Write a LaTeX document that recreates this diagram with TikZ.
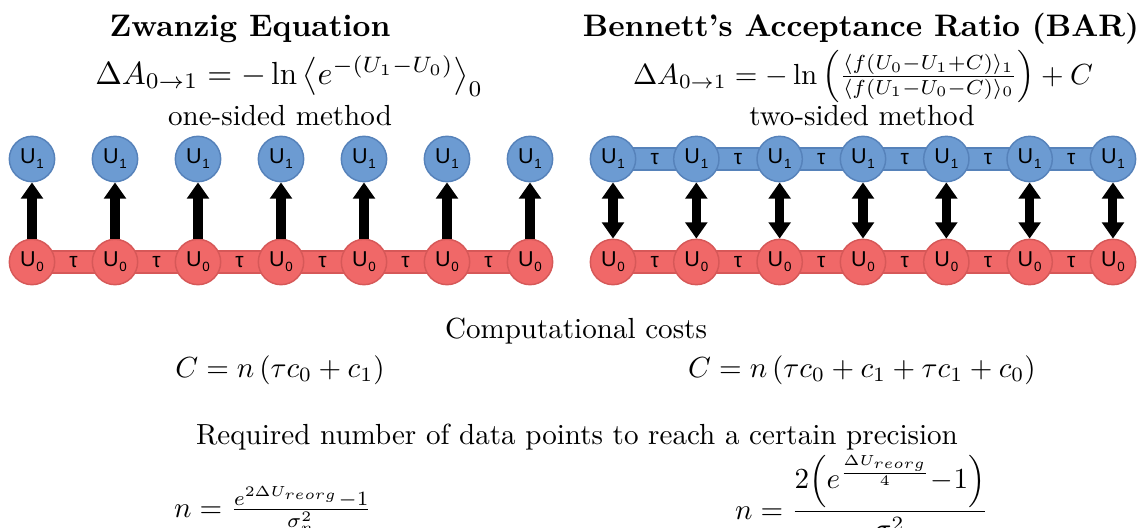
\RequirePackage{fix-cm}
\documentclass[tikz,border=0pt]{standalone}
\usepackage{amsmath}
\usepackage{fontspec}
\newfontfamily\nodefont{Liberation Sans}
\usetikzlibrary{arrows.meta,calc,backgrounds}
\definecolor{redfill}{RGB}{240,104,104}
\definecolor{redline}{RGB}{214,88,88}
\definecolor{bluefill}{RGB}{108,155,210}
\definecolor{blueline}{RGB}{86,130,186}
\newcommand{\ulab}[1]{{\nodefont\fontsize{7.4}{8}\selectfont U\kern0.3pt\raisebox{-1.7pt}{\fontsize{4.6}{5}\selectfont #1}}}
\tikzset{
  statebase/.style={circle,minimum size=15.6pt,inner sep=0pt,line width=0.5pt},
  redc/.style={statebase,fill=redfill,draw=redline},
  bluec/.style={statebase,fill=bluefill,draw=blueline},
  redband/.style={fill=redfill,draw=redline,line width=0.5pt},
  blueband/.style={fill=bluefill,draw=blueline,line width=0.5pt},
  taulab/.style={inner sep=0pt,font=\nodefont\fontsize{7.2}{8}\selectfont},
  onearrow/.style={line width=3.1pt,-{Triangle[width=7.4pt,length=5.6pt]}},
  twoarrow/.style={line width=3.1pt,{Triangle[width=7.4pt,length=5.6pt]}-{Triangle[width=7.4pt,length=5.6pt]}},
  txt/.style={anchor=base,inner sep=0pt},
  ttl/.style={txt,font=\fontsize{10.7}{13}\selectfont\bfseries},
}
\begin{document}
\begin{tikzpicture}[x=0.344pt,y=-0.344pt]
\useasboundingbox (0,0) rectangle (1140,528);
% titles and equations
\node[ttl] (t1) at (250,36) {Zwanzig Equation};
\node[ttl] (t2) at (861,36) {Bennett's Acceptance Ratio (BAR)};
\node[txt,font=\fontsize{11}{13}\selectfont] (e1) at (289,84) {$\Delta A_{0\to1} = -\ln\left\langle e^{-(U_1-U_0)}\right\rangle_0$};
\node[txt] (e2) at (863,84) {$\Delta A_{0\to1} = -\ln\left(\frac{\langle f(U_0-U_1+C)\rangle_1}{\langle f(U_1-U_0-C)\rangle_0}\right)+C$};
\node[txt] (m1) at (280,125) {one-sided method};
\node[txt] (m2) at (862,125) {two-sided method};
% states
\foreach \i in {0,...,6}{
  \node[redc] (lz\i) at ({32+83*\i},262) {\ulab{0}};
  \node[bluec] (lo\i) at ({32+83*\i},159) {\ulab{1}};
  \node[redc] (rz\i) at ({613+83.33*\i},262) {\ulab{0}};
  \node[bluec] (ro\i) at ({613+83.33*\i},159) {\ulab{1}};
  \draw[onearrow] (lz\i) -- (lo\i);
  \draw[twoarrow] (rz\i) -- (ro\i);
}
\foreach \i [evaluate=\i as \j using int(\i+1)] in {0,...,5}{
  \node[taulab] (tl\i) at ($(lz\i)!0.5!(lz\j)$) {τ};
  \node[taulab] (tr\i) at ($(rz\i)!0.5!(rz\j)$) {τ};
  \node[taulab] (tu\i) at ($(ro\i)!0.5!(ro\j)$) {τ};
}
\begin{scope}[on background layer]
\foreach \i [evaluate=\i as \j using int(\i+1)] in {0,...,5}{
  \draw[redband] ($(lz\i.center)+(0,-11)$) rectangle ($(lz\j.center)+(0,11)$);
  \draw[redband] ($(rz\i.center)+(0,-11)$) rectangle ($(rz\j.center)+(0,11)$);
  \draw[blueband] ($(ro\i.center)+(0,-11)$) rectangle ($(ro\j.center)+(0,11)$);
}
\end{scope}
% costs
\node[txt] (cc) at (576,338) {Computational costs};
\node[txt] (c1) at (280,377) {$C = n\left(\tau c_0 + c_1\right)$};
\node[txt] (c2) at (862,377) {$C = n\left(\tau c_0 + c_1 + \tau c_1 + c_0\right)$};
\node[txt] (rq) at (577,444) {Required number of data points to reach a certain precision};
\node[txt] (n1) at (273,517) {$n = \frac{e^{2\Delta U_{reorg}}{-}1}{\sigma_n^2}$};
\node[txt] (n2) at (862,519) {$n = \dfrac{2\!\left(e^{\frac{\Delta U_{reorg}}{4}}{-}1\right)}{\sigma_n^2}$};
\end{tikzpicture}
\end{document}
